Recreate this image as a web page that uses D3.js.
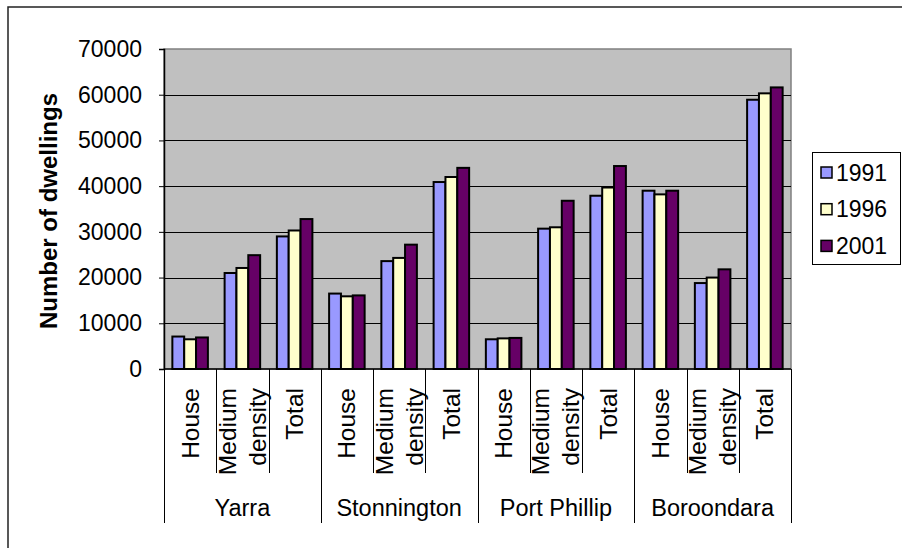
<!DOCTYPE html>
<html>
<head>
<meta charset="utf-8">
<script src="https://cdn.jsdelivr.net/npm/d3@7"></script>
<style>
  html, body { margin: 0; padding: 0; background: #fff; }
  svg { display: block; font-family: "Liberation Sans", Arial, sans-serif; }
</style>
</head>
<body>
<svg id="chart" width="902" height="548"></svg>
<script>
// Dwelling counts by municipality and dwelling type, 1991–2001
const councils = ["Yarra", "Stonnington", "Port Phillip", "Boroondara"];
const dwellingTypes = ["House", "Medium density", "Total"];
const years = ["1991", "1996", "2001"];
const values1991 = [7100, 21000, 29000, 16500, 23600, 40900, 6500, 30700, 37900, 39000, 18800, 58900];
const values1996 = [6500, 22100, 30300, 15900, 24300, 42000, 6700, 31000, 39700, 38200, 20000, 60300];
const values2001 = [6900, 24900, 32800, 16100, 27200, 44000, 6800, 36800, 44400, 39000, 21800, 61600];
const yTicks = [0, 10000, 20000, 30000, 40000, 50000, 60000, 70000];
const seriesColors = ["#9999FF", "#FFFFCC", "#660066"];

const seriesValues = [values1991, values1996, values2001];
const rows = [];
councils.forEach((c, gi) => dwellingTypes.forEach((t, ti) => {
  const i = gi * dwellingTypes.length + ti;
  rows.push({ key: c + "|" + t, council: c, type: t, values: years.map((y, si) => ({ year: y, value: seriesValues[si][i] })) });
}));

const svg = d3.select("#chart");

// outer chart frame
svg.append("rect").attr("x", 8).attr("y", 7).attr("width", 1000).attr("height", 1000)
  .attr("fill", "none").attr("stroke", "#222").attr("stroke-width", 1.5);

const plot = { left: 164, right: 791, top: 49, bottom: 369 };

const x0 = d3.scaleBand().domain(rows.map(d => d.key)).range([plot.left, plot.right]).padding(0);
const bw = x0.bandwidth();
const x1 = d3.scaleBand().domain(years).range([bw * 0.16, bw * 0.84]).padding(0);
const y = d3.scaleLinear().domain([0, 70000]).range([plot.bottom, plot.top]);

// plot background
svg.append("rect").attr("x", plot.left).attr("y", plot.top)
  .attr("width", plot.right - plot.left).attr("height", plot.bottom - plot.top)
  .attr("fill", "#C0C0C0").attr("stroke", "#808080").attr("stroke-width", 1.5);

// gridlines
svg.append("g").selectAll("line").data(yTicks.filter(v => v > 0 && v < 70000)).join("line")
  .attr("x1", plot.left).attr("x2", plot.right)
  .attr("y1", d => Math.round(y(d)) + 0.5).attr("y2", d => Math.round(y(d)) + 0.5)
  .attr("stroke", "#000").attr("stroke-width", 1);

// bars
const groups = svg.append("g").selectAll("g").data(rows).join("g")
  .attr("transform", d => `translate(${x0(d.key)},0)`);
groups.selectAll("rect").data(d => d.values).join("rect")
  .attr("x", d => x1(d.year))
  .attr("y", d => y(d.value))
  .attr("width", x1.bandwidth())
  .attr("height", d => y(0) - y(d.value))
  .attr("fill", (d, i) => seriesColors[i])
  .attr("stroke", "#000").attr("stroke-width", 2);

// y axis
const yAxis = d3.axisLeft(y).tickValues(yTicks).tickSize(5).tickPadding(17).tickFormat(d3.format("d"));
const yg = svg.append("g").attr("transform", `translate(${plot.left},0)`).call(yAxis);
yg.select(".domain").attr("stroke", "#000").attr("stroke-width", 1.5);
yg.selectAll(".tick line").attr("stroke", "#000");
yg.selectAll("text").attr("font-size", 23).attr("fill", "#000").attr("font-family", "Liberation Sans, Arial, sans-serif");

// x axis baseline
svg.append("line").attr("x1", plot.left).attr("x2", plot.right)
  .attr("y1", plot.bottom).attr("y2", plot.bottom).attr("stroke", "#000").attr("stroke-width", 1.5);

// category separators (short) and council separators (long)
const boundaries = rows.map(d => x0(d.key)).concat([plot.right]);
svg.append("g").selectAll("line").data(boundaries).join("line")
  .attr("x1", d => Math.round(d) + 0.5).attr("x2", d => Math.round(d) + 0.5)
  .attr("y1", plot.bottom)
  .attr("y2", (d, i) => (i % dwellingTypes.length === 0) ? 523 : 473)
  .attr("stroke", "#000").attr("stroke-width", 1);

// dwelling-type labels, rotated
const catG = svg.append("g").selectAll("g").data(rows).join("g")
  .attr("transform", d => `translate(${x0(d.key) + bw / 2},388) rotate(-90)`);
catG.each(function (d) {
  const words = d.type === "Medium density" ? ["Medium", "density"] : [d.type];
  const lineH = 30;
  const t = d3.select(this).append("text")
    .attr("text-anchor", "end").attr("font-size", 24.5).attr("fill", "#000");
  words.forEach((w, i) => {
    t.append("tspan").attr("x", 0)
      .attr("y", (i - (words.length - 1) / 2) * lineH + 8.5)
      .text(w);
  });
});

// council labels
svg.append("g").selectAll("text").data(councils).join("text")
  .attr("x", (c, i) => (boundaries[i * 3] + boundaries[i * 3 + 3]) / 2)
  .attr("y", 516)
  .attr("text-anchor", "middle").attr("font-size", 23.5).attr("fill", "#000")
  .text(d => d);

// y axis title
svg.append("text")
  .attr("transform", `translate(57,${(plot.top + plot.bottom) / 2 + 2}) rotate(-90)`)
  .attr("text-anchor", "middle").attr("font-size", 24).attr("font-weight", "bold").attr("fill", "#000")
  .text("Number of dwellings");

// legend
const legend = svg.append("g");
legend.append("rect").attr("x", 812.5).attr("y", 152.5).attr("width", 88).attr("height", 112)
  .attr("fill", "#fff").attr("stroke", "#000").attr("stroke-width", 1);
const li = legend.selectAll("g").data(years).join("g")
  .attr("transform", (d, i) => `translate(821,${172.5 + i * 36.7})`);
li.append("rect").attr("x", 0).attr("y", -5.5).attr("width", 11).attr("height", 11)
  .attr("fill", (d, i) => seriesColors[i]).attr("stroke", "#000").attr("stroke-width", 1.5);
li.append("text").attr("x", 15).attr("y", 8).attr("font-size", 23).attr("fill", "#000").text(d => d);
</script>
</body>
</html>
